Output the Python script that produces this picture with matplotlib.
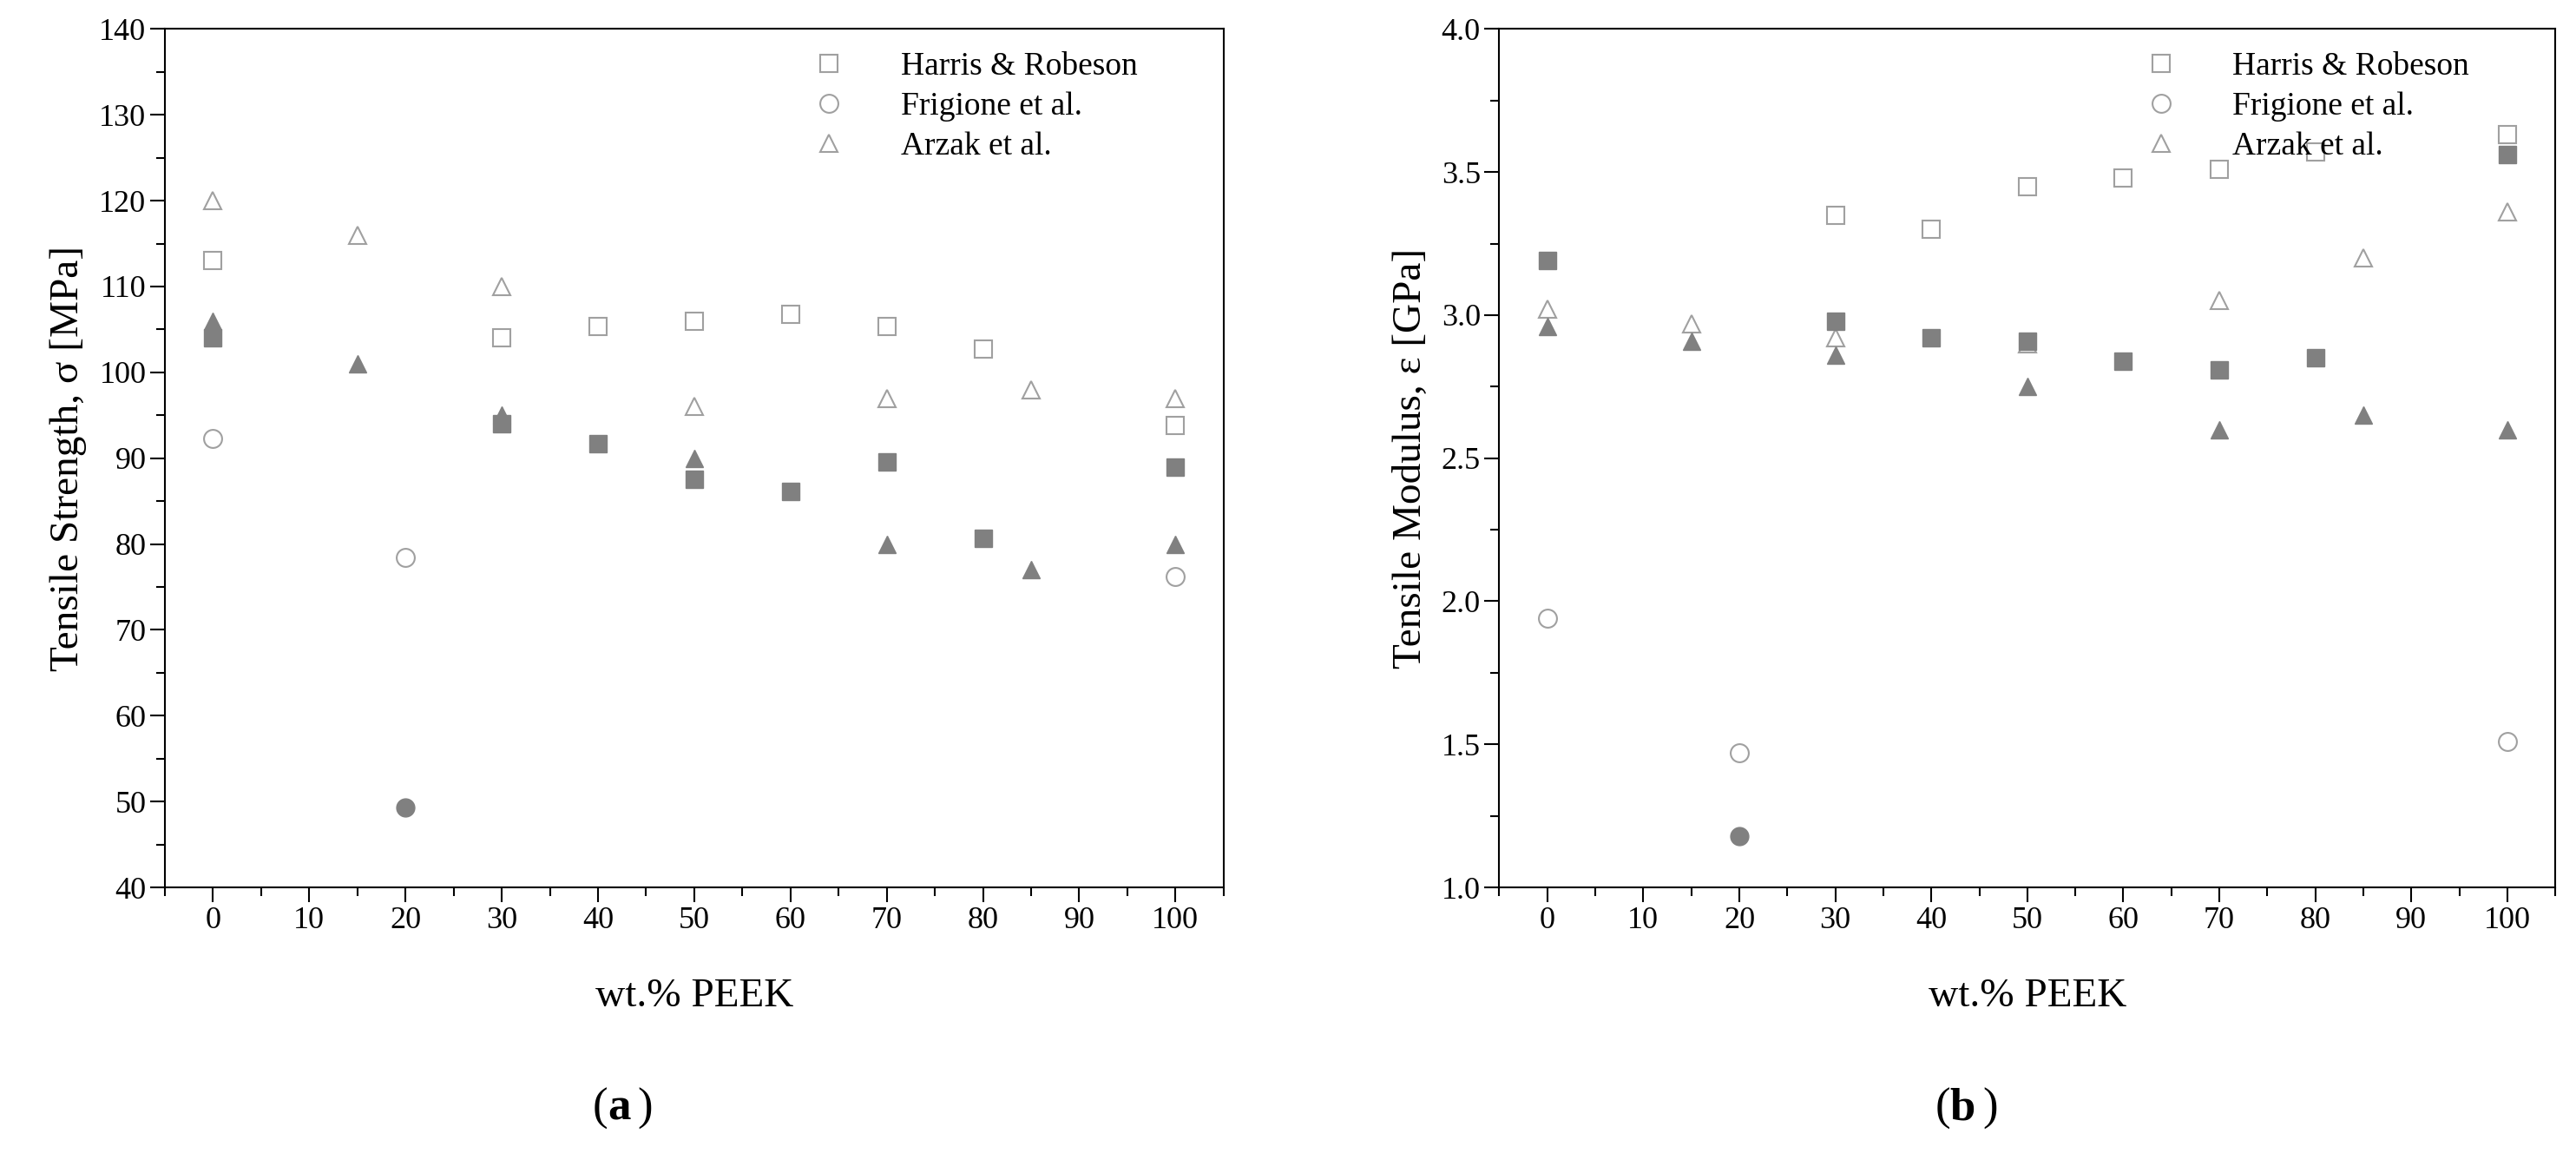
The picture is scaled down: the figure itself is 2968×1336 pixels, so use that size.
import matplotlib
matplotlib.use("Agg")
import matplotlib.pyplot as plt
from matplotlib.ticker import MultipleLocator

plt.rcParams['font.family'] = ['Liberation Serif', 'DejaVu Serif']

# tensile strength [MPa]
hr_x = [0, 30, 40, 50, 60, 70, 80, 100]
hr_ts_open = [113, 104, 105.3, 106, 106.8, 105.3, 102.7, 93.8]
hr_ts_fill = [104, 94, 91.7, 87.5, 86.1, 89.6, 80.7, 89]
fr_x = [0, 20, 100]
fr_ts_open = [92.3, 78.4, 76.2]
fr_fx = [20]
fr_ts_fill = [49.3]
ar_x = [0, 15, 30, 50, 70, 85, 100]
ar_ts_open = [120, 116, 110, 96, 97, 98, 97]
ar_ts_fill = [106, 101, 95, 90, 80, 77, 80]

# tensile modulus [GPa]
hr_mx_open = [30, 40, 50, 60, 70, 80, 100]
hr_tm_open = [3.35, 3.30, 3.45, 3.48, 3.51, 3.57, 3.63]
hr_tm_fill = [3.19, 2.98, 2.92, 2.91, 2.84, 2.81, 2.85, 3.56]
fr_tm_open = [1.94, 1.47, 1.51]
fr_tm_fill = [1.18]
ar_tm_open = [3.02, 2.97, 2.92, 2.90, 3.05, 3.20, 3.36]
ar_tm_fill = [2.96, 2.91, 2.86, 2.75, 2.60, 2.65, 2.60]

open_c = '#a0a0a0'
fill_c = '#808080'

fig = plt.figure(figsize=(29.68, 13.36), dpi=100)
ax1 = fig.add_axes([0.064, 0.235, 0.411, 0.74])
ax2 = fig.add_axes([0.582, 0.235, 0.410, 0.74])

def draw(ax, hx_o, h_o, h_f, f_o, f_f, a_o, a_f):
    ms = 15
    ax.plot(hx_o, h_o, 's', mfc='none', mec=open_c, ms=ms, mew=1.5, label='Harris & Robeson')
    ax.plot(fr_x, f_o, 'o', mfc='none', mec=open_c, ms=ms, mew=1.5, label='Frigione et al.')
    ax.plot(ar_x, a_o, '^', mfc='none', mec=open_c, ms=ms, mew=1.5, label='Arzak et al.')
    ax.plot(hr_x, h_f, 's', color=fill_c, ms=ms)
    ax.plot(fr_fx, f_f, 'o', color=fill_c, ms=ms)
    ax.plot(ar_x, a_f, '^', color=fill_c, ms=ms)
    ax.set_xlim(-5, 105)
    ax.set_xticks(range(0, 101, 10))
    ax.xaxis.set_minor_locator(MultipleLocator(5))
    ax.tick_params(which='major', direction='out', length=12, width=1.5, labelsize=26)
    ax.tick_params(which='minor', direction='out', length=7, width=1.5)
    for s in ax.spines.values():
        s.set_linewidth(1.5)
    ax.set_xlabel('wt.% PEEK', fontsize=34, labelpad=36)
    ax.legend(loc='upper right', bbox_to_anchor=(0.94, 1.0), frameon=False, fontsize=27,
              handletextpad=1.2, labelspacing=0.3, borderaxespad=0.3)

draw(ax1, hr_x, hr_ts_open, hr_ts_fill, fr_ts_open, fr_ts_fill, ar_ts_open, ar_ts_fill)
ax1.set_ylim(40, 140)
ax1.yaxis.set_major_locator(MultipleLocator(10))
ax1.yaxis.set_minor_locator(MultipleLocator(5))
ax1.set_ylabel('Tensile Strength, σ [MPa]', fontsize=34, labelpad=10)

draw(ax2, hr_mx_open, hr_tm_open, hr_tm_fill, fr_tm_open, fr_tm_fill, ar_tm_open, ar_tm_fill)
ax2.set_ylim(1.0, 4.0)
ax2.yaxis.set_major_locator(MultipleLocator(0.5))
ax2.yaxis.set_minor_locator(MultipleLocator(0.25))
ax2.yaxis.set_major_formatter(matplotlib.ticker.FormatStrFormatter('%.1f'))
ax2.set_ylabel('Tensile Modulus, ε [GPa]', fontsize=34, labelpad=10)

fig.text(0.234, 0.035, '(', fontsize=38, ha='center')
fig.text(0.234, 0.035, r'$\,$', fontsize=38)
fig.text(0.244, 0.035, '(a)', fontsize=38, ha='left', alpha=0)
fig.texts.clear()
fig.text(0.236, 0.035, '(', fontsize=38, ha='right')
fig.text(0.236, 0.035, 'a', fontsize=38, ha='left', weight='bold')
fig.text(0.2475, 0.035, ')', fontsize=38, ha='left')
fig.text(0.757, 0.035, '(', fontsize=38, ha='right')
fig.text(0.757, 0.035, 'b', fontsize=38, ha='left', weight='bold')
fig.text(0.7695, 0.035, ')', fontsize=38, ha='left')
fig.savefig('out.png', dpi=100)
